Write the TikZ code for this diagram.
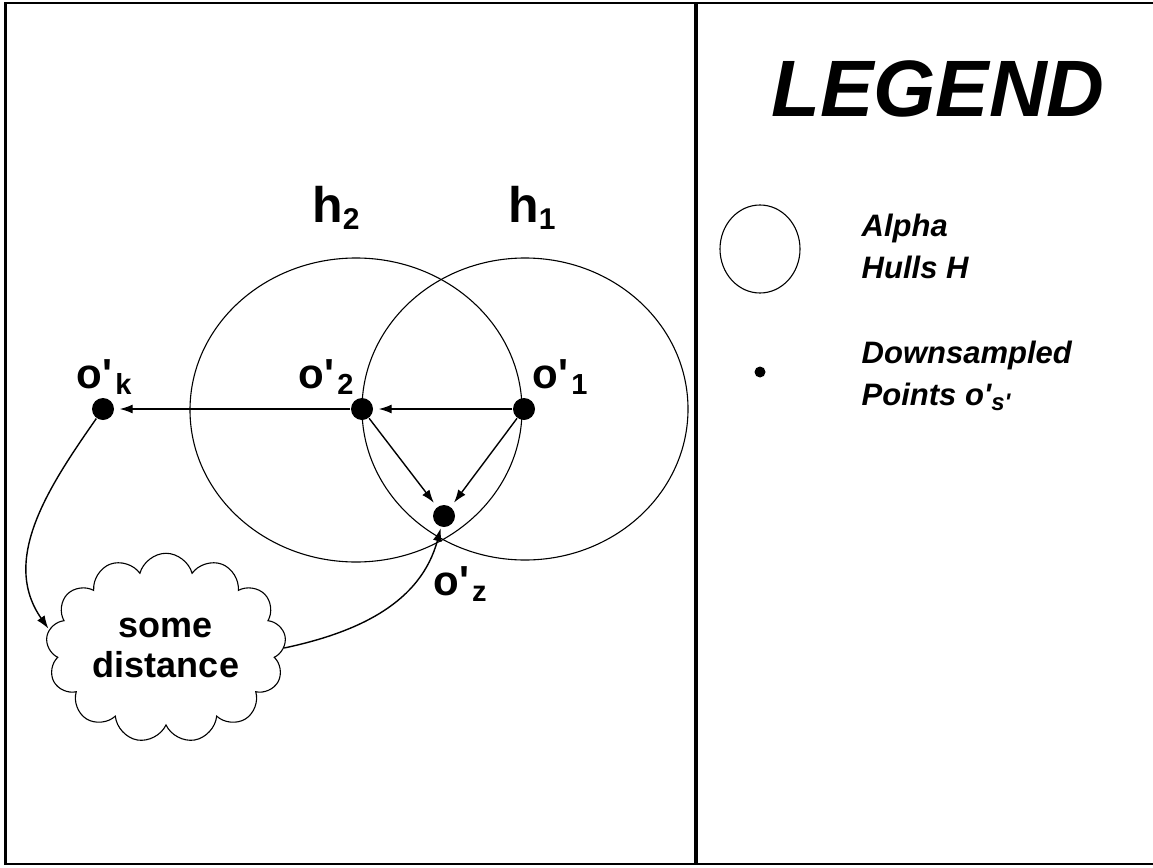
\documentclass[tikz,border=0pt]{standalone}
\usepackage{fontspec}
\setmainfont{Liberation Sans}
\usetikzlibrary{
        arrows.meta,
        positioning,
        shapes.geometric,
        shapes.symbols
    }
\tikzset{>={Latex[length=13pt,width=9pt]},shorten >=1pt,auto}
\tikzset{point/.style={circle,fill=black,inner sep=0pt,minimum size=22pt}}
\tikzset{hull/.style={ellipse,draw,line width=1.1pt,inner sep=0pt}}
\tikzset{lbl/.style={font=\fontsize{42}{42}\selectfont\bfseries,inner sep=0pt}}
\tikzset{legtext/.style={font=\fontsize{31}{42}\selectfont\bfseries\itshape,align=left,inner sep=0pt,anchor=west}}
% o-prime with a lowered index
\newcommand{\oprime}[1]{o\textquotesingle\hspace{3pt}\raisebox{-0.3ex}{\fontsize{29}{29}\selectfont #1}}

\begin{document}
\begin{tikzpicture}[x=1pt,y=-1pt,line width=1.4pt]
        \useasboundingbox (0,0) rectangle (1153,867);
        % frame
        \draw[line width=2.5pt] (1160,3) -- (5,3) -- (5,864) -- (1160,864);
        \draw[line width=3pt] (5,3) -- (5,864);
        \draw[line width=4.5pt] (696,3) -- (696,864);

        % hulls
        \node[hull,minimum width=332pt,minimum height=304pt] (h2c) at (356,410) {};
        \node[hull,minimum width=326pt,minimum height=302pt] (h1c) at (525,409) {};
        \node[lbl,font=\fontsize{50}{50}\selectfont\bfseries] (h2) at (336,208) {h\raisebox{-0.25ex}{\fontsize{30}{30}\selectfont 2}};
        \node[lbl,font=\fontsize{50}{50}\selectfont\bfseries] (h1) at (532,208) {h\raisebox{-0.25ex}{\fontsize{30}{30}\selectfont 1}};

        % points
        \node[point] (ok) at (103,409) {};
        \node[point] (o2) at (362,409) {};
        \node[point] (o1) at (524,409) {};
        \node[point] (oz) at (444,516) {};
        \node[lbl] (lk) at (104,377) {\oprime{k}};
        \node[lbl] (l2) at (326,377) {\oprime{2}};
        \node[lbl] (l1) at (560,377) {\oprime{1}};
        \node[lbl] (lz) at (460,584) {\oprime{z}};

        \node[cloud,draw,line width=1.1pt,cloud puffs=13,aspect=1.4,
              minimum width=240pt,minimum height=180pt,align=center,
              font=\fontsize{36}{40}\selectfont\bfseries] (dist) at (166,648) {some\\distance};

        \path[->,shorten >=5pt]
                (o1) edge (o2)
                (o2) edge (ok)
                (o2) edge (oz)
                (o1) edge (oz)
                ;
        \path[->]
                (ok) edge[out=235,in=125] (dist.171)
                (dist.east) edge[out=12,in=-105] (oz)
                ;

        % legend
        \node[font=\fontsize{80}{80}\selectfont\bfseries\itshape] (leg) at (938,89) {LEGEND};
        \node[ellipse,draw,line width=1.1pt,minimum width=80pt,minimum height=88pt] (legh) at (760,249) {};
        \node[point,minimum size=11pt] (legp) at (760,372) {};
        \node[legtext] (legha) at (861,246) {Alpha\\Hulls H};
        \node[legtext] (legpa) at (861,376) {Downsampled\\Points o\textquotesingle\raisebox{-0.3ex}{\fontsize{24}{24}\selectfont s\textquotesingle}};
\end{tikzpicture}
\end{document}
